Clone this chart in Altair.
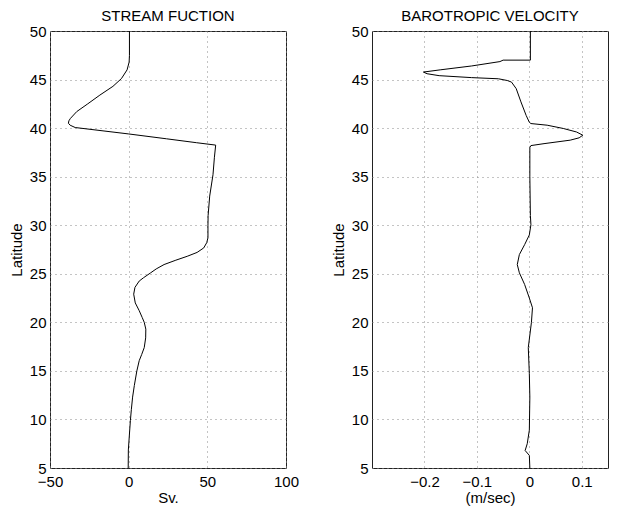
import altair as alt
import pandas as pd

# Stream function (Sv.) vs latitude (top to bottom)
sf_lat = [50.0, 47.5, 46.8, 46.0, 45.1, 44.3, 43.4, 42.5, 41.7, 41.0, 40.75, 40.5, 40.3,
          40.06, 39.4, 38.9, 38.5, 38.25, 37.0, 35.2, 33.0, 31.0, 30.0, 28.7, 28.2,
          27.66, 27.2, 26.8, 26.4, 25.95, 25.5, 25.1, 24.6, 24.25, 23.6, 22.9, 22.0,
          21.2, 20.5, 20.0, 19.3, 18.4, 17.4, 16.7, 16.05, 15.0, 13.5, 12.3, 11.0,
          9.9, 8.5, 6.86, 5.0]
sf_val = [0.5, 0.5, 0.3, -1.0, -4.6, -10.0, -18.3, -26.0, -33.0, -37.0, -38.0, -38.3, -37.2,
          -34.0, 0.0, 24.0, 43.0, 55.3, 54.5, 53.6, 51.5, 50.5, 50.4, 50.4, 49.6,
          47.7, 43.5, 37.2, 30.0, 22.5, 17.5, 14.0, 9.5, 6.7, 4.0, 3.2, 4.2,
          6.7, 8.6, 9.9, 10.9, 10.8, 9.9, 8.3, 6.7, 5.2, 3.6, 2.5, 1.7,
          1.1, 0.5, -0.2, -0.3]

# Barotropic velocity (m/sec) vs latitude
bv_lat = [50.0, 47.0, 47.0, 46.85, 46.4, 46.0, 45.77, 45.6, 45.4, 45.2, 45.08, 44.9,
          44.74, 44.06, 42.7, 41.3, 40.6, 40.47, 40.3, 39.96, 39.6, 39.27, 39.0,
          38.76, 38.4, 38.2, 38.0, 35.0, 31.0, 30.05, 29.0, 28.0, 26.98, 25.95,
          25.1, 23.9, 22.5, 21.5, 20.0, 17.4, 14.7, 12.3, 8.9, 7.5, 6.8, 6.3, 5.0]
bv_val = [0.002, 0.002, -0.050, -0.056, -0.11, -0.17, -0.202, -0.195, -0.172, -0.11,
          -0.059, -0.042, -0.034, -0.025, -0.016, -0.006, 0.0, 0.003, 0.034, 0.065,
          0.09, 0.102, 0.095, 0.078, 0.028, 0.003, 0.001, 0.001, 0.002, 0.003, 0.0,
          -0.009, -0.019, -0.023, -0.019, -0.009, 0.0, 0.006, 0.004, -0.002, 0.0,
          0.001, 0.0, -0.004, -0.008, 0.0, 0.001]

lat_ticks = [5, 10, 15, 20, 25, 30, 35, 40, 45, 50]
sf_ticks = [-50, 0, 50, 100]
bv_ticks = [-0.2, -0.1, 0, 0.1]
titles = ["STREAM FUCTION", "BAROTROPIC VELOCITY"]

FONT = "Liberation Sans"
W, H = 236, 437

sf_df = pd.DataFrame({"lat": sf_lat, "val": sf_val, "idx": range(len(sf_lat))})
bv_df = pd.DataFrame({"lat": bv_lat, "val": bv_val, "idx": range(len(bv_lat))})


def panel(df, title, xdomain, xticks, xtitle, fmt):
    line = alt.Chart(df).mark_line(color="black", strokeWidth=1, clip=True).encode(
        x=alt.X("val:Q",
                scale=alt.Scale(domain=xdomain, nice=False, zero=False),
                axis=alt.Axis(values=xticks, format=fmt, title=xtitle,
                              labelPadding=6.5, titlePadding=1)),
        y=alt.Y("lat:Q",
                scale=alt.Scale(domain=[5, 50], nice=False, zero=False),
                axis=alt.Axis(values=lat_ticks, format="d", title="Latitude",
                              labelPadding=4, titlePadding=5)),
        order="idx:Q",
    )
    head = alt.Chart(pd.DataFrame({"t": [title]})).mark_text(
        font=FONT, fontSize=15, color="black", align="center", baseline="alphabetic"
    ).encode(text="t:N", x=alt.value(W / 2), y=alt.value(-10.5))
    return alt.layer(line, head).properties(width=W, height=H)


left = panel(sf_df, titles[0], [-50, 100], sf_ticks, "Sv.", "d")
right = panel(bv_df, titles[1], [-0.3, 0.15], bv_ticks, "(m/sec)", ".1~f")

chart = alt.hconcat(left, right, spacing=86, bounds="flush").properties(
    padding={"left": 0, "top": 0, "right": 0, "bottom": 0}
).configure_view(
    stroke="#222", strokeWidth=1
).configure_axis(
    grid=True, gridDash=[1, 4], gridColor="#888", gridWidth=1,
    domain=False, ticks=False, tickSize=0,
    labelFont=FONT, labelFontSize=15, labelColor="black",
    titleFont=FONT, titleFontSize=15, titleFontWeight="normal", titleColor="black",
    labelFlush=False, labelOverlap=False,
)

chart.save("out.html", embed_options={"renderer": "svg", "actions": False})
